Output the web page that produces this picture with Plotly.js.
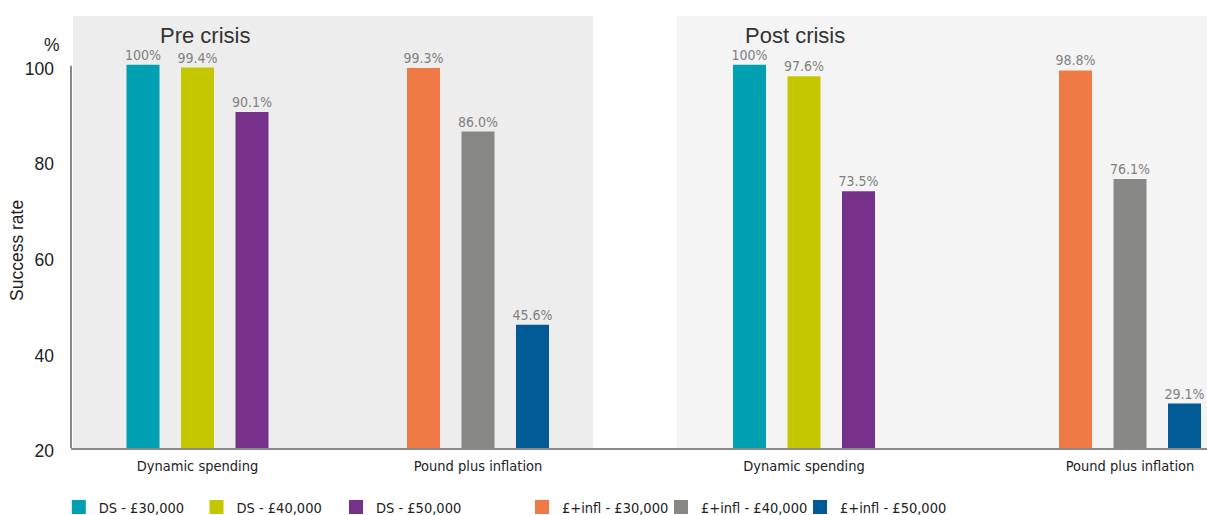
<!DOCTYPE html>
<html>
<head>
<meta charset="utf-8">
<script src="https://cdn.plot.ly/plotly-3.0.1.min.js"></script>
<style>html,body{margin:0;padding:0;background:#fff;}#chart{width:1207px;height:515px;}</style>
</head>
<body>
<div id="chart"></div>
<script>
// ---- data ----
const periods = ['Pre crisis', 'Post crisis'];
const categories = ['Dynamic spending', 'Pound plus inflation'];
const dsNames = ['DS - £30,000', 'DS - £40,000', 'DS - £50,000'];
const inflNames = ['£+infl - £30,000', '£+infl - £40,000', '£+infl - £50,000'];
const preDS = [100, 99.4, 90.1];
const preInfl = [99.3, 86.0, 45.6];
const postDS = [100, 97.6, 73.5];
const postInfl = [98.8, 76.1, 29.1];
const yTicks = [20, 40, 60, 80, 100];

// ---- styles ----
const dsColors = ['#00A0B2', '#C4C700', '#76328A'];
const inflColors = ['#EF7A45', '#878786', '#005A96'];
const NARROW = '"Liberation Sans Narrow", "DejaVu Sans Condensed", "Arial Narrow", sans-serif';
const REG = '"Liberation Sans", Arial, sans-serif';

// layout geometry (pixels)
const W = 1207, H = 515;
const M = {l: 71, r: 0, t: 16, b: 67};
const plotW = W - M.l - M.r;
const plotH = H - M.t - M.b;
const splitPx = 635;
const px2x = p => (p - M.l) / plotW;
const px2y = p => (H - M.b - p) / plotH;

// per-panel category spacing (px per category) and first-category centre (px)
const panels = [
  {axis: 'x', unit: 280.5, c0: 197.5, left: M.l, right: splitPx},
  {axis: 'x2', unit: 326, c0: 804, left: splitPx, right: W - M.r}
];
const BAR_PX = 31, STEP_PX = 54.5, FIRST_PX = -70;
// legend symbol centres (px) for the six series
const legendSymPx = [78.3, 216, 355.5, 541.5, 680.5, 819.5];

const fmt = v => (v === 100 ? '100' : v.toFixed(1)) + '%';

const traces = [];
const seriesSets = [
  {names: dsNames, colors: dsColors, vals: [preDS, postDS], cat: categories[0]},
  {names: inflNames, colors: inflColors, vals: [preInfl, postInfl], cat: categories[1]}
];
const legendDefs = {};
let li = 0;
seriesSets.forEach(set => {
  set.names.forEach((name, i) => {
    const legId = li === 0 ? 'legend' : 'legend' + (li + 1);
    legendDefs[legId] = {
      orientation: 'h',
      xref: 'container', yref: 'container',
      x: (legendSymPx[li] - 19.5) / W, xanchor: 'left',
      y: (H - 507) / H, yanchor: 'middle',
      font: {family: NARROW, size: 14.5, color: '#222'},
      bgcolor: 'rgba(0,0,0,0)'
    };
    li++;
    panels.forEach((pn, p) => {
      const v = set.vals[p][i];
      traces.push({
        type: 'bar',
        name: name,
        legend: legId,
        legendgroup: name,
        showlegend: p === 0,
        xaxis: pn.axis,
        yaxis: 'y',
        x: [set.cat],
        y: [v],
        base: 0,
        offset: (FIRST_PX + i * STEP_PX) / pn.unit,
        width: BAR_PX / pn.unit,
        marker: {color: set.colors[i], line: {color: set.colors[i], width: 2}},
        text: [fmt(v)],
        textposition: 'outside',
        constraintext: 'none',
        cliponaxis: false,
        textfont: {family: NARROW, size: 14, color: '#808080'},
        hoverinfo: 'name+y'
      });
    });
  });
});

const axisRange = pn => [(pn.left - pn.c0) / pn.unit, (pn.right - pn.c0) / pn.unit];

const xCommon = {
  type: 'category',
  categoryorder: 'array',
  categoryarray: categories,
  showline: true,
  linecolor: '#8a8a8a',
  linewidth: 2,
  showgrid: false,
  zeroline: false,
  ticks: '',
  tickfont: {family: NARROW, size: 14.5, color: '#222'},
  ticklabelstandoff: 4,
  fixedrange: true
};

const layout = Object.assign({
  width: W, height: H,
  margin: M,
  paper_bgcolor: '#fff',
  plot_bgcolor: 'rgba(0,0,0,0)',
  barmode: 'overlay',
  showlegend: true,
  xaxis: Object.assign({}, xCommon, {domain: [0, px2x(splitPx)], range: axisRange(panels[0]), anchor: 'y'}),
  xaxis2: Object.assign({}, xCommon, {domain: [px2x(splitPx), 1], range: axisRange(panels[1]), anchor: 'y'}),
  yaxis: {
    range: [20, 110.4],
    tickvals: yTicks,
    ticktext: yTicks.map(String),
    showline: false,
    showgrid: false,
    zeroline: false,
    ticks: '',
    tickfont: {family: REG, size: 17.5, color: '#222'},
    ticklabelstandoff: 16,
    ticklabelshift: 3,
    anchor: 'x',
    fixedrange: true
  },
  shapes: [
    {type: 'rect', xref: 'paper', yref: 'paper', x0: px2x(73), x1: px2x(593), y0: 0, y1: 1,
     fillcolor: '#EDEDED', line: {width: 0}, layer: 'below'},
    {type: 'rect', xref: 'paper', yref: 'paper', x0: px2x(677), x1: 1, y0: 0, y1: 1,
     fillcolor: '#F4F4F4', line: {width: 0}, layer: 'below'},
    {type: 'line', xref: 'paper', yref: 'y', x0: 0, x1: 0, y0: 20, y1: 100,
     line: {color: '#8a8a8a', width: 2}}
  ],
  annotations: [
    {text: periods[0], xref: 'paper', yref: 'paper', x: px2x(205), y: px2y(35), showarrow: false,
     xanchor: 'center', yanchor: 'middle', font: {family: REG, size: 22, color: '#333'}},
    {text: periods[1], xref: 'paper', yref: 'paper', x: px2x(794.5), y: px2y(35), showarrow: false,
     xanchor: 'center', yanchor: 'middle', font: {family: REG, size: 22, color: '#333'}},
    {text: '%', xref: 'paper', yref: 'paper', x: px2x(52), y: px2y(45), showarrow: false,
     xanchor: 'center', yanchor: 'middle', font: {family: REG, size: 17.5, color: '#222'}},
    {text: 'Success rate', xref: 'paper', yref: 'paper', x: px2x(17), y: px2y(251), showarrow: false,
     textangle: -90, xanchor: 'center', yanchor: 'middle', font: {family: REG, size: 17.5, color: '#222'}}
  ],
  hovermode: false
}, legendDefs);

Plotly.newPlot('chart', traces, layout, {displayModeBar: false, staticPlot: true});
</script>
</body>
</html>
